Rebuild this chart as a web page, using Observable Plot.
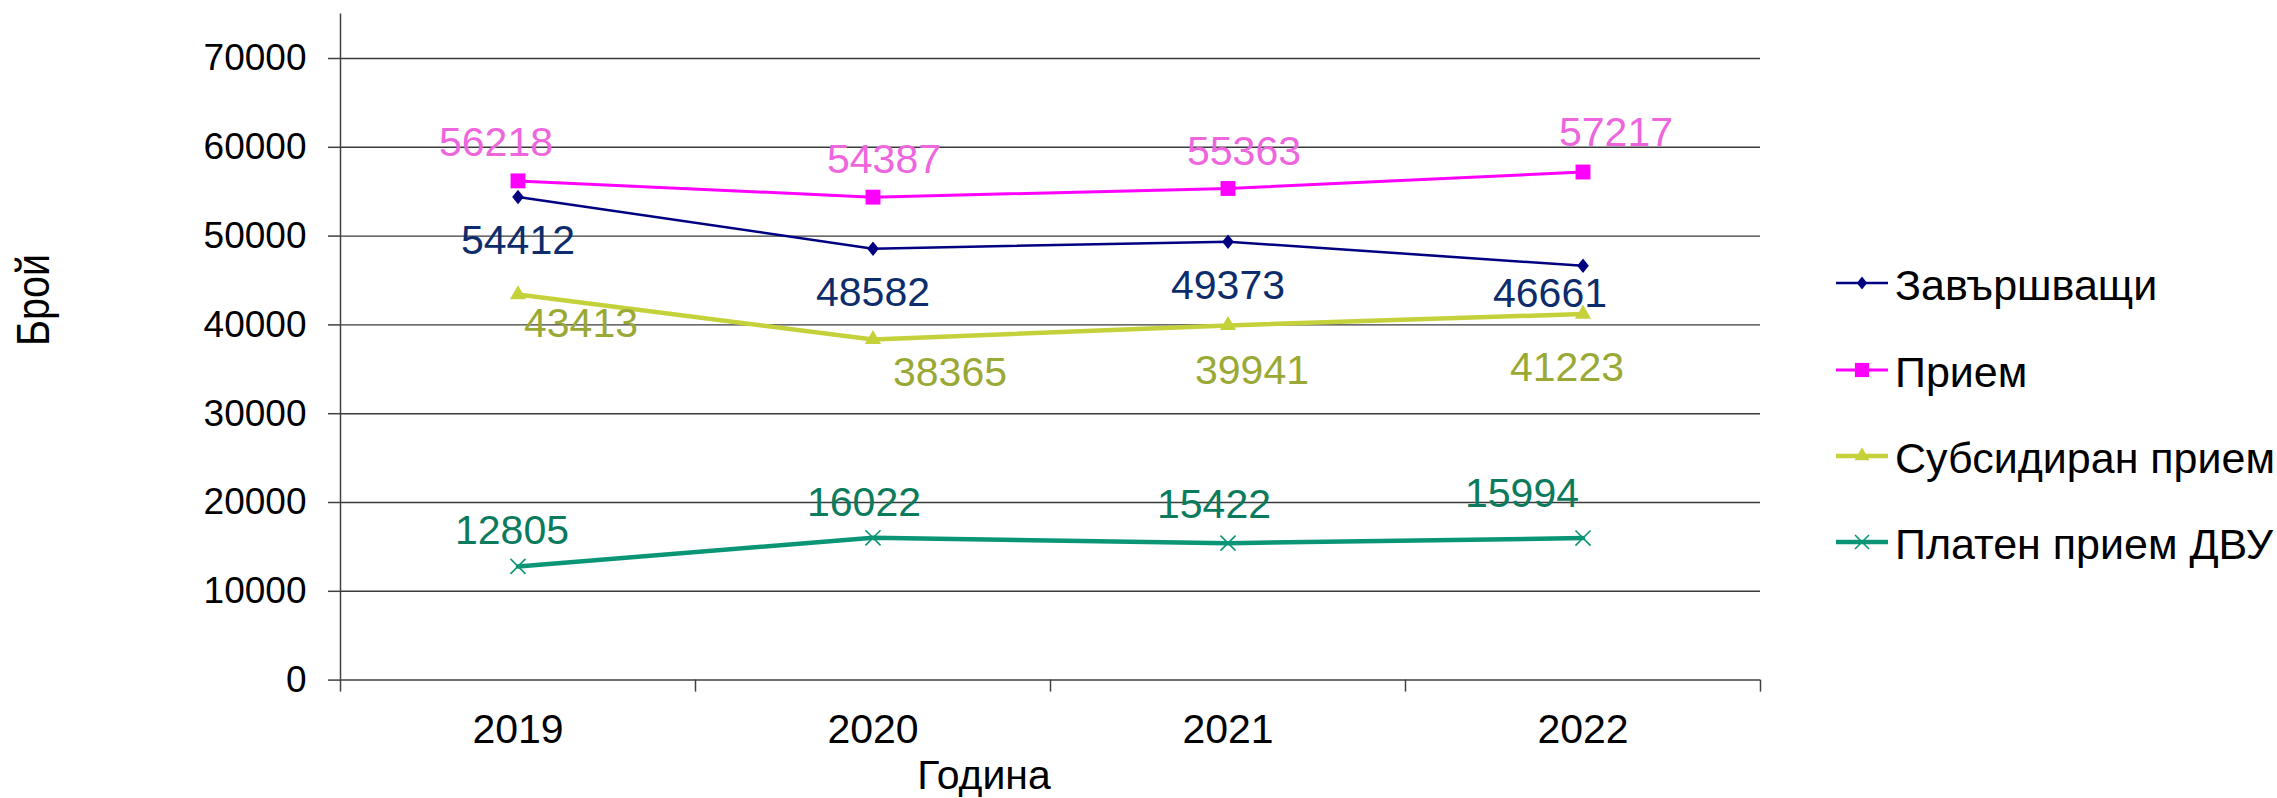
<!DOCTYPE html>
<html>
<head>
<meta charset="utf-8">
<script src="https://cdn.jsdelivr.net/npm/d3@7"></script>
<script src="https://cdn.jsdelivr.net/npm/@observablehq/plot@0.6"></script>
<style>
  html, body { margin: 0; padding: 0; background: #fff; }
  #wrap { position: relative; width: 2277px; height: 798px; overflow: hidden; font-family: "Liberation Sans", Arial, sans-serif; }
  #wrap > svg { position: absolute; left: 0; top: 0; }
  .title { position: absolute; white-space: nowrap; color: #000; line-height: 1; }
</style>
</head>
<body>
<div id="wrap"></div>
<script>
// ---- data ----
const years = [2019, 2020, 2021, 2022];
const seriesNames = ["Завършващи", "Прием", "Субсидиран прием", "Платен прием ДВУ"];
const graduates = [54412, 48582, 49373, 46661];
const admission = [56218, 54387, 55363, 57217];
const subsidized = [43413, 38365, 39941, 41223];
const paidAdmission = [12805, 16022, 15422, 15994];
const yTicks = [0, 10000, 20000, 30000, 40000, 50000, 60000, 70000];
const xTitle = "Година";
const yTitle = "Брой";

// ---- styles (separate from data) ----
const wideDiamond = {
  draw(context, size) {
    const h = Math.sqrt(size / 1.6), w = 0.8 * h;
    context.moveTo(0, -h); context.lineTo(w, 0); context.lineTo(0, h); context.lineTo(-w, 0); context.closePath();
  }
};
const seriesValues = [graduates, admission, subsidized, paidAdmission];
const styles = [
  {line: "#000080", width: 2.5, symbol: wideDiamond,      r: 5.2, filled: true,  label: "#0d2c6b", legendR: 4.6},
  {line: "#ff00ff", width: 3,   symbol: d3.symbolSquare,  r: 8.4, filled: true,  label: "#ee66dd", legendR: 8.0},
  {line: "#c5d13b", width: 4.5, symbol: d3.symbolTriangle,r: 6.0, filled: true,  label: "#9aa935", legendR: 5.6},
  {line: "#0a9676", width: 4.5, symbol: d3.symbolTimes,   r: 6.9, filled: false, label: "#0c7b5d", legendR: 6.4}
];
// label nudges (pixels) relative to each point
const labelDx = [[0, 0, 0, -33], [-22, 11, 16, 33], [63, 77, 24, -16], [-6, -9, -14, -61]];
const labelDy = [[44, 44, 44, 28], [-38, -37, -37, -39], [29, 33, 45, 54], [-36, -35, -38, -44]];

const edges = [...years.map(y => y - 0.5), years[years.length - 1] + 0.5];
const font = "Liberation Sans, Arial, sans-serif";
const axisColor = "#404040";

const marks = [
  Plot.ruleY(yTicks.filter(d => d > 0), {x1: edges[0], x2: edges[edges.length - 1], stroke: "#3a3a3a", strokeWidth: 1.4}),
  Plot.axisY({ticks: yTicks, tickSize: 12, tickPadding: 22, fontSize: 37, tickFormat: d3.format("d"),
              stroke: axisColor, strokeWidth: 1.5, label: null}),
  Plot.ruleX([edges[0]], {y1: 0, y2: 75000, stroke: axisColor, strokeWidth: 1.5}),
  Plot.ruleY([0], {x1: edges[0], x2: edges[edges.length - 1], stroke: axisColor, strokeWidth: 1.5}),
  Plot.axisX({ticks: edges, tickSize: 12, tickFormat: () => "", stroke: axisColor, strokeWidth: 1.5, label: null}),
  Plot.axisX({ticks: years, tickSize: 0, tickPadding: 34, fontSize: 41, tickFormat: d => String(d), label: null})
];

seriesValues.forEach((vals, s) => {
  const st = styles[s];
  const rows = years.map((yr, i) => ({year: yr, value: vals[i]}));
  marks.push(Plot.line(rows, {x: "year", y: "value", stroke: st.line, strokeWidth: st.width}));
  marks.push(Plot.dot(rows, st.filled
    ? {x: "year", y: "value", symbol: st.symbol, r: st.r, fill: st.line, stroke: "none"}
    : {x: "year", y: "value", symbol: st.symbol, r: st.r, fill: "none", stroke: st.line, strokeWidth: 1.6}));
});
seriesValues.forEach((vals, s) => {
  const st = styles[s];
  years.forEach((yr, i) => {
    marks.push(Plot.text([{year: yr, value: vals[i]}], {
      x: "year", y: "value", text: d => String(d.value),
      dx: labelDx[s][i], dy: labelDy[s][i], fill: st.label, fontSize: 41, textAnchor: "middle"
    }));
  });
});

const chart = Plot.plot({
  width: 2277, height: 798,
  marginLeft: 340, marginRight: 517, marginTop: 13.6, marginBottom: 118.4,
  style: {fontFamily: font, background: "white", overflow: "visible", color: "#000"},
  x: {type: "linear", domain: [edges[0], edges[edges.length - 1]]},
  y: {type: "linear", domain: [0, 75000]},
  marks
});
const wrap = document.getElementById("wrap");
wrap.appendChild(chart);

// ---- axis titles ----
const yt = document.createElement("div");
yt.className = "title";
yt.textContent = yTitle;
yt.style.cssText = "left:33px;top:300px;font-size:46px;transform:translate(-50%,-50%) rotate(-90deg) scaleX(0.86);";
wrap.appendChild(yt);

const xt = document.createElement("div");
xt.className = "title";
xt.textContent = xTitle;
xt.style.cssText = "left:984px;top:755px;font-size:41px;transform:translateX(-50%);";
wrap.appendChild(xt);

// ---- legend ----
const leg = d3.select(wrap).append("svg")
  .attr("width", 457).attr("height", 360)
  .style("left", "1820px").style("top", "230px")
  .style("font-family", font);
const rowY = [53, 140, 226, 312];
seriesNames.forEach((name, s) => {
  const st = styles[s];
  const g = leg.append("g").attr("transform", `translate(0,${rowY[s]})`);
  g.append("line").attr("x1", 16).attr("x2", 68).attr("y1", 0).attr("y2", 0)
    .attr("stroke", st.line).attr("stroke-width", st.width);
  g.append("path").attr("transform", "translate(42,0)")
    .attr("d", d3.symbol(st.symbol, Math.PI * st.legendR * st.legendR)())
    .attr("fill", st.filled ? st.line : "none")
    .attr("stroke", st.filled ? "none" : st.line)
    .attr("stroke-width", 1.6);
  g.append("text").attr("x", 75).attr("y", 17).attr("font-size", 43).attr("fill", "#000").text(name);
});
</script>
</body>
</html>
